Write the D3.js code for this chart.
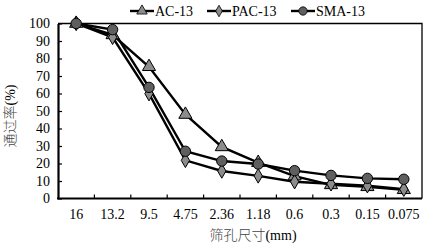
<!DOCTYPE html>
<html>
<head>
<meta charset="utf-8">
<script src="https://cdn.jsdelivr.net/npm/d3@7"></script>
<style>
  body { margin: 0; background: #fff; }
  svg text { font-family: "Liberation Serif", "DejaVu Serif", serif; fill: #000; }
</style>
</head>
<body>
<svg id="chart" width="435" height="248"></svg>
<script>
/******** Data ********/
var sieves = ["16", "13.2", "9.5", "4.75", "2.36", "1.18", "0.6", "0.3", "0.15", "0.075"];
var ac13  = [100, 93.5, 75.3, 48, 29.5, 20.5, 12.8, 7.8, 6.7, 5];
var pac13 = [100, 92.1, 59.9, 21.8, 15.7, 12.9, 9.6, 8.4, 7.3, 5.3];
var sma13 = [100, 96.5, 63.5, 27, 21.4, 19.7, 15.9, 13.2, 11.5, 11];
var yTicks = [0, 10, 20, 30, 40, 50, 60, 70, 80, 90, 100];

var series = [
  { name: "AC-13", values: ac13, shape: "triangle", fill: "#8c8c8c" },
  { name: "PAC-13", values: pac13, shape: "diamond", fill: "#8c8c8c" },
  { name: "SMA-13", values: sma13, shape: "circle", fill: "#5f5f5f" }
];

/******** Layout ********/
var plotLeft = 58, plotRight = 422, plotTop = 23.5, plotBottom = 198.5;
var svg = d3.select("#chart");

/******** Scales ********/
var x = d3.scaleBand().domain(sieves).range([plotLeft, plotRight]);
var y = d3.scaleLinear().domain([0, 100]).range([plotBottom, plotTop]);

// frame (top + right thin)
svg.append("path")
  .attr("d", "M" + plotLeft + "," + plotTop + "H" + plotRight + "V" + plotBottom)
  .attr("fill", "none").attr("stroke", "#000").attr("stroke-width", 1.3);

/******** Axes ********/
var yAxis = d3.axisLeft(y).tickValues(yTicks).tickSizeInner(-4).tickSizeOuter(0).tickPadding(8);
var yG = svg.append("g").attr("transform", "translate(" + plotLeft + ",0)").call(yAxis)
  .attr("font-family", null);
yG.select(".domain").attr("stroke-width", 2.2);
yG.selectAll(".tick line").attr("stroke-width", 1.2);
yG.selectAll("text").style("font-size", "14px");

// x ticks sit on the band edges, labels at band centres
var edges = sieves.slice(1).map(d => x(d));
var xG = svg.append("g");
xG.append("line")
  .attr("x1", plotLeft - 1).attr("x2", plotRight).attr("y1", plotBottom).attr("y2", plotBottom)
  .attr("stroke", "#000").attr("stroke-width", 2.2);
xG.selectAll(".edge").data(edges).enter().append("line")
  .attr("x1", d => d).attr("x2", d => d)
  .attr("y1", plotBottom).attr("y2", plotBottom - 4)
  .attr("stroke", "#000").attr("stroke-width", 1.2);
xG.selectAll(".lab").data(sieves).enter().append("text")
  .attr("x", d => x(d) + x.bandwidth() / 2)
  .attr("y", 219)
  .attr("text-anchor", "middle")
  .style("font-size", "14px")
  .text(d => d);

/******** Lines ********/
var line = d3.line()
  .x((d, i) => x(sieves[i]) + x.bandwidth() / 2)
  .y(d => y(d));

function marker(g, shape, fill) {
  var sym = shape === "triangle" ? d3.symbolTriangle : shape === "diamond" ? d3.symbolDiamond : d3.symbolCircle;
  var size = shape === "circle" ? 85 : shape === "diamond" ? 60 : 75;
  return g.append("path")
    .attr("d", d3.symbol().type(sym).size(size))
    .attr("fill", fill).attr("stroke", "#000").attr("stroke-width", 1);
}

series.forEach(function (s) {
  svg.append("path")
    .datum(s.values)
    .attr("d", line)
    .attr("fill", "none").attr("stroke", "#000").attr("stroke-width", 2.4);
});
series.forEach(function (s) {
  s.values.forEach(function (v, i) {
    marker(svg, s.shape, s.fill)
      .attr("transform", "translate(" + (x(sieves[i]) + x.bandwidth() / 2) + "," + y(v) + ")");
  });
});

/******** Legend ********/
var legendX = [130, 207, 291];
series.forEach(function (s, i) {
  var g = svg.append("g").attr("transform", "translate(" + legendX[i] + ",11)");
  g.append("line").attr("x1", 0).attr("x2", 24).attr("y1", 0).attr("y2", 0)
    .attr("stroke", "#000").attr("stroke-width", 2.4);
  marker(g, s.shape, s.fill).attr("transform", "translate(12,0) scale(0.8)");
  g.append("text").attr("x", 25).attr("y", 5).style("font-size", "14px").text(s.name);
});

/******** Titles ********/
svg.append("text")
  .attr("x", 253).attr("y", 240)
  .attr("text-anchor", "middle")
  .style("font-size", "14px")
  .html('<tspan style="font-family:\'Noto Sans CJK SC\';font-weight:300;fill:#444">筛孔尺寸</tspan>(mm)');

svg.append("text")
  .attr("transform", "translate(15,116) rotate(-90)")
  .attr("text-anchor", "middle")
  .style("font-size", "14px")
  .html('<tspan style="font-family:\'Noto Sans CJK SC\';font-weight:300;fill:#444">通过率</tspan>(%)');
</script>
</body>
</html>
